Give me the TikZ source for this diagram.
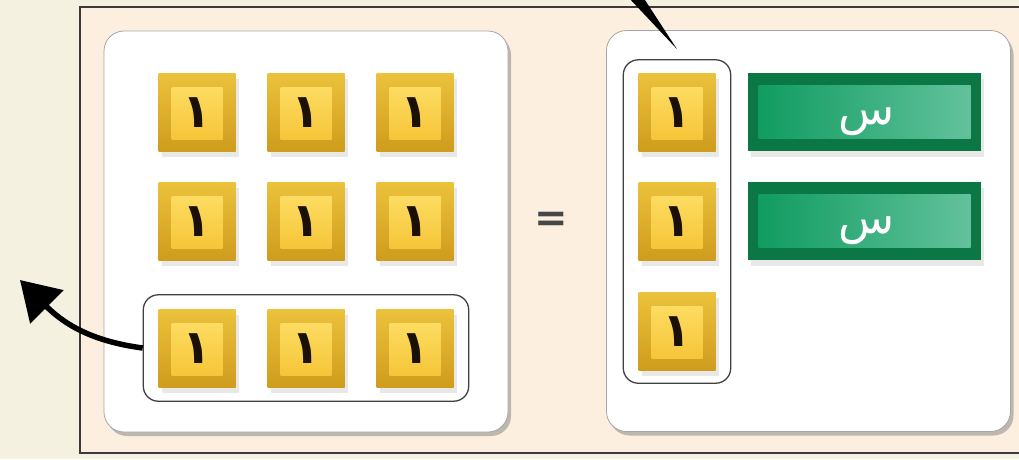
\documentclass[tikz,border=0pt]{standalone}
\usepackage{fontspec}
\newfontfamily\arabicfont[Script=Arabic]{DejaVu Sans}
\TeXXeTstate=1
\usetikzlibrary{shadows,fit,arrows.meta}
\definecolor{bgcol}{HTML}{F5F1E1}
\definecolor{framefill}{HTML}{FCEFDF}
\definecolor{frameedge}{HTML}{3A3A3A}
\definecolor{tileA}{HTML}{EBC23C}
\definecolor{tileB}{HTML}{CF9C1C}
\definecolor{tileInA}{HTML}{FFE26C}
\definecolor{tileInB}{HTML}{F4C030}
\definecolor{digit}{HTML}{1A1005}
\definecolor{gOuter}{HTML}{0A7745}
\definecolor{gA}{HTML}{0C9A5E}
\definecolor{gB}{HTML}{66C39E}
\begin{document}
\begin{tikzpicture}[x=1pt,y=-1pt,
  panel/.style={draw=black!35, fill=white, rounded corners=20pt, line width=0.8pt,
    minimum width=404pt, minimum height=401pt, inner sep=0pt,
    drop shadow={shadow xshift=3pt,shadow yshift=-4pt,opacity=0.45,fill=black!55}},
  tile/.style={minimum width=77pt, minimum height=78pt, inner sep=0pt,
    top color=tileA, bottom color=tileB,
    drop shadow={shadow xshift=3pt,shadow yshift=-6pt,opacity=0.15,fill=black!60},
    path picture={\shade[top color=tileInA, bottom color=tileInB]
      ([shift={(13pt,-14pt)}]path picture bounding box.north west) rectangle
      ([shift={(-13pt,12pt)}]path picture bounding box.south east);}},
  xbar/.style={minimum width=233pt, minimum height=78pt, inner sep=0pt, fill=gOuter,
    drop shadow={shadow xshift=3pt,shadow yshift=-6pt,opacity=0.15,fill=black!60},
    path picture={\shade[left color=gA, right color=gB]
      ([shift={(11pt,-12pt)}]path picture bounding box.north west) rectangle
      ([shift={(-10pt,13pt)}]path picture bounding box.south east);}},
  onelabel/.style={inner sep=0pt, font=\arabicfont\bfseries\fontsize{47}{47}\selectfont, text=digit},
  xlabel/.style={inner sep=0pt, font=\arabicfont\fontsize{46}{46}\selectfont, text=white},
  grp/.style={draw=black!75, line width=1.3pt, rounded corners=15pt,
    inner xsep=15pt, inner ysep=14pt},
  eqsign/.style={font=\arabicfont\bfseries\fontsize{40}{40}\selectfont, text=black!72}
]
\useasboundingbox (0,0) rectangle (1019,459);
\fill[bgcol] (0,0) rectangle (1019,459);
% frame
\draw[fill=framefill, draw=frameedge, line width=2.5pt] (80,7) rectangle (1040,453);
% panels
\node[panel] (pL) at (306,231.5) {};
\node[panel] (pR) at (808.5,231) {};
% left tiles
\foreach \r/\y in {1/112,2/221,3/348}{
  \foreach \c/\x in {1/197,2/306,3/415}{
    \node[tile] (L\r\c) at (\x,\y) {};
    \node[onelabel] (dL\r\c) at ([yshift=-1pt]L\r\c.center) {١};
  }
}
% right tiles
\foreach \r/\y in {1/112,2/221,3/331}{
  \node[tile] (R\r) at (677,\y) {};
  \node[onelabel] (dR\r) at ([yshift=-1pt]R\r.center) {١};
}
% green bars
\node[xbar] (X1) at (864,112) {};
\node[xbar] (X2) at (864,221) {};
\node[xlabel] (s1) at ([xshift=3pt,yshift=-10pt]X1.center) {\beginR س\endR};
\node[xlabel] (s2) at ([xshift=3pt,yshift=-10pt]X2.center) {\beginR س\endR};
% equals
\node[eqsign] (eq) at (551,222) {=};
% groups
\node[grp, fit=(L31)(L33)] (gL) {};
\node[grp, fit=(R1)(R3), inner ysep=13pt] (gR) {};
% arrows
\coordinate (tipL) at (20,280);
\draw[line width=5.5pt, -{Triangle[length=38pt,width=46pt]}]
  (gL.west) .. controls (98,342) and (68,328) .. (tipL);
\coordinate (topA) at (628,-3);
\coordinate (topB) at (643,-3);
\fill (topA) -- (topB) -- ([yshift=10pt]gR.north) -- cycle;
\end{tikzpicture}
\end{document}
